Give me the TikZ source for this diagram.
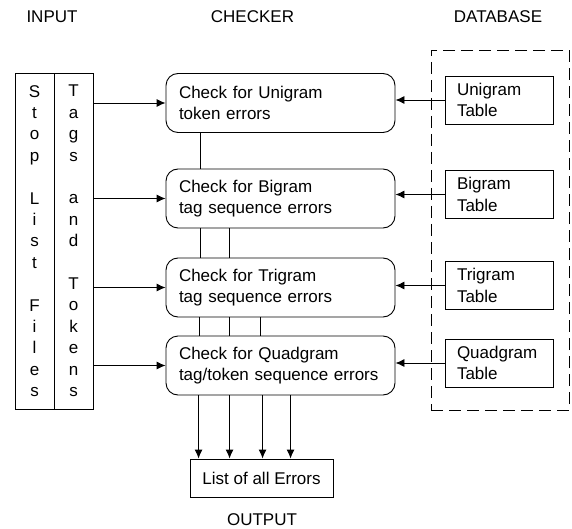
\documentclass[tikz,border=0pt]{standalone}
\usepackage{fontspec}
\setmainfont{Liberation Sans}
\usetikzlibrary{arrows.meta,calc}

\begin{document}
\begin{tikzpicture}[
    x=1pt, y=-1pt,
    font=\fontsize{17}{21.4}\selectfont,
    heading/.style={inner sep=0pt},
    column/.style={draw, minimum width=39pt, minimum height=336pt,
                   inner sep=0pt, align=center},
    checkbox/.style={draw, rounded corners=12pt, minimum width=229pt,
                     minimum height=59pt, inner xsep=13pt, text width=203pt,
                     align=left},
    tablebox/.style={draw, minimum width=108pt, minimum height=48pt,
                     inner xsep=12pt, text width=84pt, align=left},
    line width=0.9pt,
    >={Latex[length=9pt,width=8pt]}
  ]
    \useasboundingbox (0,0) rectangle (572,529);

    % Headings
    \node[heading] (hin) at (52,17) {INPUT};
    \node[heading] (hchk) at (252.5,17) {CHECKER};
    \node[heading] (hdb) at (498,17) {DATABASE};
    \node[heading] (hout) at (262,520) {OUTPUT};

    % Input columns
    \node[column] (stop) at (34.5,241)
      {S\\t\\o\\p\\~\\L\\i\\s\\t\\~\\F\\i\\l\\e\\s};
    \node[column] (tags) at (73.5,241)
      {T\\a\\g\\s\\~\\a\\n\\d\\~\\T\\o\\k\\e\\n\\s};

    % Checker stages
    \node[checkbox] (chk1) at (280.5,103) {Check for Unigram\\token errors};
    \node[checkbox] (chk2) at (280.5,198.5) {Check for Bigram\\tag sequence errors};
    \node[checkbox] (chk3) at (280.5,287.5) {Check for Trigram\\tag sequence errors};
    \node[checkbox] (chk4) at (280.5,365.5) {Check for Quadgram\\tag/token sequence errors};

    % Database
    \node[draw, dashed, dash pattern=on 12pt off 6pt, minimum width=138pt,
          minimum height=360pt] (db) at (500,230) {};
    \node[tablebox] (tab1) at (499,100) {Unigram\\Table};
    \node[tablebox] (tab2) at (499,194.5) {Bigram\\Table};
    \node[tablebox] (tab3) at (499,285.5) {Trigram\\Table};
    \node[tablebox] (tab4) at (499,363) {Quadgram\\Table};

    % Output
    \node[draw, minimum width=143pt, minimum height=38pt] (out) at (261.5,478)
      {List of all Errors};

    % Input feeds every stage
    \foreach \i in {1,...,4}
      \draw[->] (chk\i.west -| tags.east) -- (chk\i.west);

    % Tables feed their stage
    \foreach \i in {1,...,4}
      \draw[->] (tab\i.west) -- (tab\i.west -| chk\i.east);

    % Links between stages
    \foreach \a/\b/\dx in {1/2/35, 2/3/35, 2/3/64, 3/4/34, 3/4/64, 3/4/95} {
      \coordinate (lk) at ($(chk\a.south west)+(\dx,0)$);
      \draw (lk) -- (lk |- chk\b.north);
    }

    % Errors collected
    \foreach \dx in {33,64,97,125} {
      \coordinate (er) at ($(chk4.south west)+(\dx,0)$);
      \draw[->] (er) -- (er |- out.north);
    }
  \end{tikzpicture}
\end{document}
